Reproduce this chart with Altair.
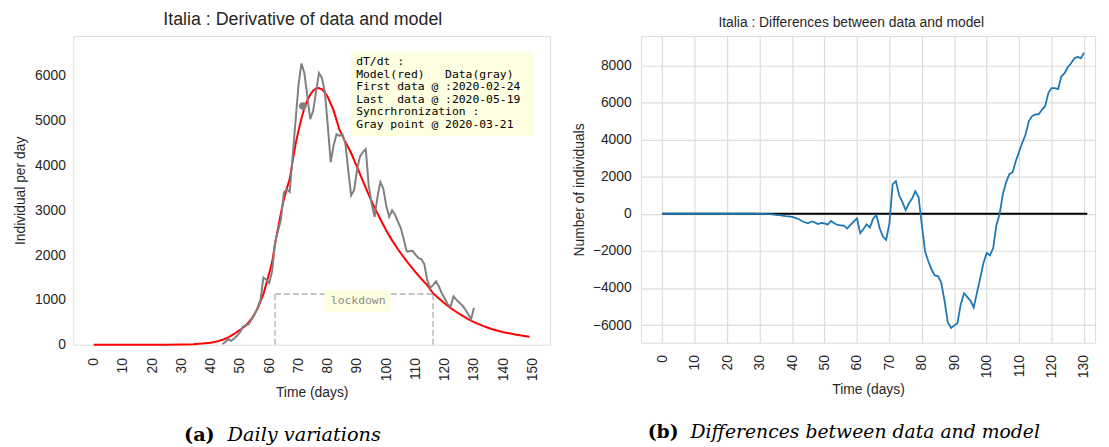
import altair as alt
import pandas as pd

# ---------------- data ----------------
# Left panel: daily data (gray), days 44..130
gray_vals = [15, 60, 126, 88, 140, 200, 280, 400, 440, 460,
             570, 680, 830, 1000, 1500, 1450, 1380, 1650, 2300, 2540,
             2800, 3400, 3470, 3410, 4200, 5000, 5800, 6280, 6066, 5550,
             5034, 5220, 5650, 6066, 5955, 5650, 4900, 4073, 4450, 4700,
             4664, 4700, 4500, 3900, 3336, 3450, 3900, 4200, 4300, 4368,
             3557, 3150, 2856, 3300, 3631, 3483, 3100, 2856, 3000, 2900,
             2750, 2600, 2350, 2081, 2088, 2096, 2010, 1933, 1910, 1800,
             1450, 1268, 1330, 1417, 1300, 1150, 1030, 900, 850, 1080,
             1000, 937, 880, 790, 680, 569, 826]
gray_days = list(range(44, 44 + len(gray_vals)))

# Left panel: model derivative (red)
model_days = [0, 10, 20, 25, 30, 34, 37, 40, 42, 44, 46, 48, 50, 52, 54, 56, 58,
              60, 61, 62, 63, 64, 65, 66, 67, 68, 69, 70, 71, 72, 73, 74, 75,
              76, 77, 78, 79, 80, 82, 84, 86, 88, 90, 92, 94, 96, 98, 100, 102,
              104, 106, 108, 110, 112, 114, 116, 118, 120, 122, 124, 126, 128,
              130, 133, 136, 140, 144, 149]
model_vals = [0, 0, 0, 1, 4, 12, 25, 45, 70, 110, 165, 240, 330, 430, 580, 800, 1130,
              1600, 1850, 2250, 2600, 2940, 3250, 3480, 3704, 4100, 4480, 4780, 5050, 5280, 5450, 5580, 5670,
              5720, 5730, 5700, 5630, 5530, 5230, 4800, 4530, 4280, 3970, 3660, 3350, 3060, 2800, 2550, 2330,
              2130, 1950, 1780, 1620, 1470, 1330, 1150, 1030, 920, 820, 730, 650, 570,
              505, 420, 350, 280, 230, 177]

sync_day = [71.5]
sync_val = [5330]

lockdown_start = 62
lockdown_end = 116
lockdown_level = 1130

info_lines = ["dT/dt :",
              "Model(red)   Data(gray)",
              "First data @ :2020-02-24",
              "Last  data @ :2020-05-19",
              "Syncrhronization :",
              "Gray point @ 2020-03-21"]

# Right panel: differences data - model (blue), days 0..130
diff_vals = [0] * 30 + [
    -3, -8, -15, -25, -38, -55, -75, -100, -125, -145,
    -165, -220, -284, -390, -470, -516, -409, -462, -551, -498,
    -516, -587, -391, -516, -604, -620, -640, -800, -604, -420,
    -249, -1049, -818, -569, -747, -249, -71, -782, -1227, -1404,
    -516, 1582, 1760, 996, 640, 196, 551, 818, 1209, 907,
    -600, -2027, -2560, -3004, -3324, -3360, -3716, -4693, -5849, -6151,
    -6027, -5884, -4871, -4284, -4480, -4693, -5049, -4249, -3484, -2649,
    -2116, -2240, -1849, -604, 0, 1084, 1707, 2151, 2240, 2862,
    3350, 3840, 4284, 4995, 5262, 5351, 5351, 5600, 5796, 6507,
    6773, 6773, 6720, 7396, 7573, 7893, 8107, 8373, 8462, 8373,
    8676]
diff_days = list(range(len(diff_vals)))
zero_days = [0, 131]
zero_vals = [0, 0]

left_xticks = list(range(0, 151, 10))
left_yticks = list(range(0, 6001, 1000))
right_xticks = list(range(0, 131, 10))
right_yticks = list(range(-6000, 8001, 2000))

# ---------------- styling ----------------
FONT = "Liberation Sans"
MONO = "DejaVu Sans Mono"
SERIF = "DejaVu Serif"
TXT = "#262626"

LW, LH = 482, 312
RW, RH = 459, 310


def x_axis(values, grid, pad):
    return alt.Axis(values=values, labelAngle=270, labelFontSize=14, labelFont=FONT,
                    labelColor=TXT, title="Time (days)", titleFont=FONT, titleFontSize=14,
                    titleFontWeight="normal", titleColor=TXT, ticks=False, domain=False,
                    grid=grid, gridColor="#dcdcdc", gridWidth=1.2, labelPadding=pad,
                    titlePadding=5, format="d", labelFlush=False, labelOverlap=False)


def y_axis(values, title, grid, lpad, tpad):
    return alt.Axis(values=values, labelFontSize=14, labelFont=FONT, labelColor=TXT,
                    title=title, titleFont=FONT, titleFontSize=14, titleFontWeight="normal",
                    titleColor=TXT, ticks=False, domain=False, grid=grid, gridColor="#dcdcdc",
                    gridWidth=1.2, labelPadding=lpad, titlePadding=tpad, format="d",
                    labelFlush=False, labelOverlap=False)


one = pd.DataFrame({"k": [0]})

# ---------------- left chart ----------------
xl = alt.X("day:Q", scale=alt.Scale(domain=[-7, 156], nice=False, zero=False),
           axis=x_axis(left_xticks, False, 13))
yl = alt.Y("val:Q", scale=alt.Scale(domain=[0, 6890], nice=False),
           axis=y_axis(left_yticks, "Individual per day", False, 8, 7))

lock_df = pd.DataFrame({
    "day": [lockdown_start, lockdown_end, lockdown_start],
    "day2": [lockdown_start, lockdown_end, lockdown_end],
    "val": [0, 0, lockdown_level],
    "val2": [lockdown_level, lockdown_level, lockdown_level],
})
lock = alt.Chart(lock_df).mark_rule(color="#bdbdbd", strokeWidth=1.6, strokeDash=[6, 3]).encode(
    x=xl, x2="day2:Q", y=yl, y2="val2:Q")

model = alt.Chart(pd.DataFrame({"day": model_days, "val": model_vals})).mark_line(
    color="#ff0000", strokeWidth=2).encode(x=xl, y=yl)
data_line = alt.Chart(pd.DataFrame({"day": gray_days, "val": gray_vals})).mark_line(
    color="#808080", strokeWidth=2).encode(x=xl, y=yl)
sync = alt.Chart(pd.DataFrame({"day": sync_day, "val": sync_val})).mark_circle(
    color="#808080", size=60, opacity=1).encode(x=xl, y=yl)

info_box = alt.Chart(one).mark_rect(fill="#fefee0").encode(
    x=alt.value(281), x2=alt.value(465), y=alt.value(16), y2=alt.value(101))
info_text = alt.Chart(one).mark_text(
    align="left", baseline="middle", font=MONO, fontSize=11.5, color="#000000",
    lineHeight=12.7).encode(
    x=alt.value(286), y=alt.value(26.3),
    text=alt.value([s.replace(" ", "\u00a0") for s in info_lines]))

lock_box = alt.Chart(one).mark_rect(fill="#fefee0").encode(
    x=alt.value(254), x2=alt.value(321), y=alt.value(257), y2=alt.value(279))
lock_text = alt.Chart(one).mark_text(
    align="center", baseline="middle", font=MONO, fontSize=11.5, color="#8c8c8c").encode(
    x=alt.value(288), y=alt.value(268), text=alt.value("lockdown"))

cap_a1 = alt.Chart(one).mark_text(align="right", baseline="alphabetic", font=SERIF,
                                  fontSize=19.5, fontWeight="bold", color="#000000").encode(
    x=alt.value(143), y=alt.value(409.5), text=alt.value("(a)"))
cap_a2 = alt.Chart(one).mark_text(align="left", baseline="alphabetic", font=SERIF,
                                  fontSize=19.5, fontStyle="italic", color="#000000").encode(
    x=alt.value(156), y=alt.value(409.5), text=alt.value("Daily variations"))

left = alt.layer(lock, model, data_line, sync, info_box, info_text, lock_box, lock_text,
                 cap_a1, cap_a2).properties(
    width=LW, height=LH,
    title=alt.TitleParams("Italia : Derivative of data and model", font=FONT, fontSize=18,
                          fontWeight="normal", color=TXT, dx=-9, offset=7.5))

# ---------------- right chart ----------------
xr = alt.X("day:Q", scale=alt.Scale(domain=[-6.55, 133.4], nice=False, zero=False),
           axis=x_axis(right_xticks, True, 12))
yr = alt.Y("val:Q", scale=alt.Scale(domain=[-6950, 9573], nice=False, zero=False),
           axis=y_axis(right_yticks, "Number of individuals", True, 10, 6))

zero_line = alt.Chart(pd.DataFrame({"day": zero_days, "val": zero_vals})).mark_line(
    color="#000000", strokeWidth=2).encode(x=xr, y=yr)
diff_line = alt.Chart(pd.DataFrame({"day": diff_days, "val": diff_vals})).mark_line(
    color="#1f77b4", strokeWidth=1.8).encode(x=xr, y=yr)

cap_b1 = alt.Chart(one).mark_text(align="right", baseline="alphabetic", font=SERIF,
                                  fontSize=19, fontWeight="bold", color="#000000").encode(
    x=alt.value(38), y=alt.value(406), text=alt.value("(b)"))
cap_b2 = alt.Chart(one).mark_text(align="left", baseline="alphabetic", font=SERIF,
                                  fontSize=19, fontStyle="italic", color="#000000").encode(
    x=alt.value(50), y=alt.value(406), text=alt.value("Differences between data and model"))

right = alt.layer(zero_line, diff_line, cap_b1, cap_b2).properties(
    width=RW, height=RH,
    title=alt.TitleParams("Italia : Differences between data and model", font=FONT,
                          fontSize=14, fontWeight="normal", color=TXT, dx=-17, offset=6))

chart = alt.hconcat(left, right, spacing=21).properties(
    padding={"left": 5, "top": 0, "right": 5, "bottom": 0}
).configure_view(
    stroke="#cccccc", strokeWidth=1.2).configure(background="white")

chart.save("out.html", embed_options={"renderer": "svg", "actions": False})
